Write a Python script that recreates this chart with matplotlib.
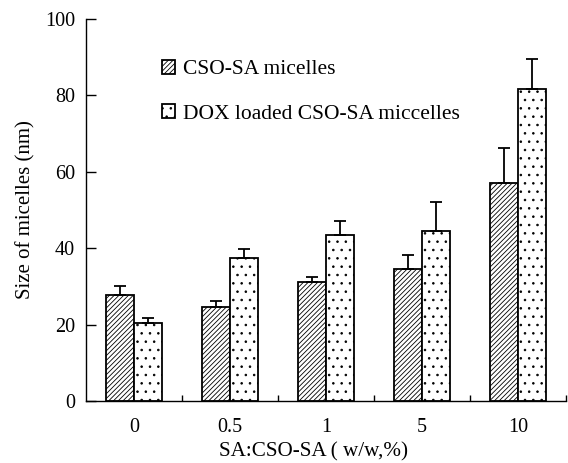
import numpy as np
import matplotlib
matplotlib.use("Agg")
import matplotlib.pyplot as plt

# data
categories = ["0", "0.5", "1", "5", "10"]
cso_sa = [27.7, 24.5, 31.1, 34.5, 57.0]
cso_sa_err = [2.3, 1.6, 1.4, 3.7, 9.3]
dox = [20.4, 37.5, 43.4, 44.6, 81.8]
dox_err = [1.2, 2.3, 3.7, 7.5, 7.6]

plt.rcParams['font.family'] = ['Liberation Serif', 'DejaVu Serif']
plt.rcParams['hatch.linewidth'] = 0.6

fig = plt.figure(figsize=(5.68, 4.63), dpi=100)
ax = fig.add_axes([0.1514, 0.1339, 0.8451, 0.8251])

x = np.arange(len(categories))
w = 0.29

ax.bar(x - w/2, cso_sa, w, color='white', edgecolor='black', linewidth=1.3,
       hatch='///////', label='CSO-SA micelles')
ax.bar(x + w/2, dox, w, color='white', edgecolor='black', linewidth=1.3,
       hatch='..', label='DOX loaded CSO-SA miccelles')
ax.errorbar(x - w/2, cso_sa, yerr=[np.zeros(5), cso_sa_err], fmt='none',
            ecolor='black', elinewidth=1.3, capsize=4, capthick=1.3)
ax.errorbar(x + w/2, dox, yerr=[np.zeros(5), dox_err], fmt='none',
            ecolor='black', elinewidth=1.3, capsize=4, capthick=1.3)

ax.set_xlim(-0.5, 4.5)
ax.set_ylim(0, 100)
ax.spines['top'].set_visible(False)
ax.spines['right'].set_visible(False)
ax.spines['left'].set_linewidth(1.0)
ax.spines['bottom'].set_linewidth(1.0)

ax.set_xticks(x)
ax.set_xticklabels(categories, fontsize=14.5)
ax.tick_params(axis='x', length=0, pad=12)
ax.set_xticks(np.arange(0.5, 5, 1), minor=True)
ax.tick_params(axis='x', which='minor', direction='in', length=4, width=1)
ax.set_yticks([0, 20, 40, 60, 80, 100])
ax.tick_params(axis='y', direction='in', length=7, width=1, labelsize=14.5, pad=8)

ax.set_xlabel('SA:CSO-SA ( w/w,%)', fontsize=15.2, labelpad=4, x=0.473)
ax.set_ylabel('Size of micelles (nm)', fontsize=15, labelpad=7)

ax.legend(loc='upper left', bbox_to_anchor=(0.158, 0.893), frameon=False,
          borderaxespad=0, borderpad=0,
          fontsize=15.5, handlelength=0.6, handleheight=0.6, handletextpad=0.4,
          labelspacing=1.16)

fig.savefig('out.png', dpi=100)
